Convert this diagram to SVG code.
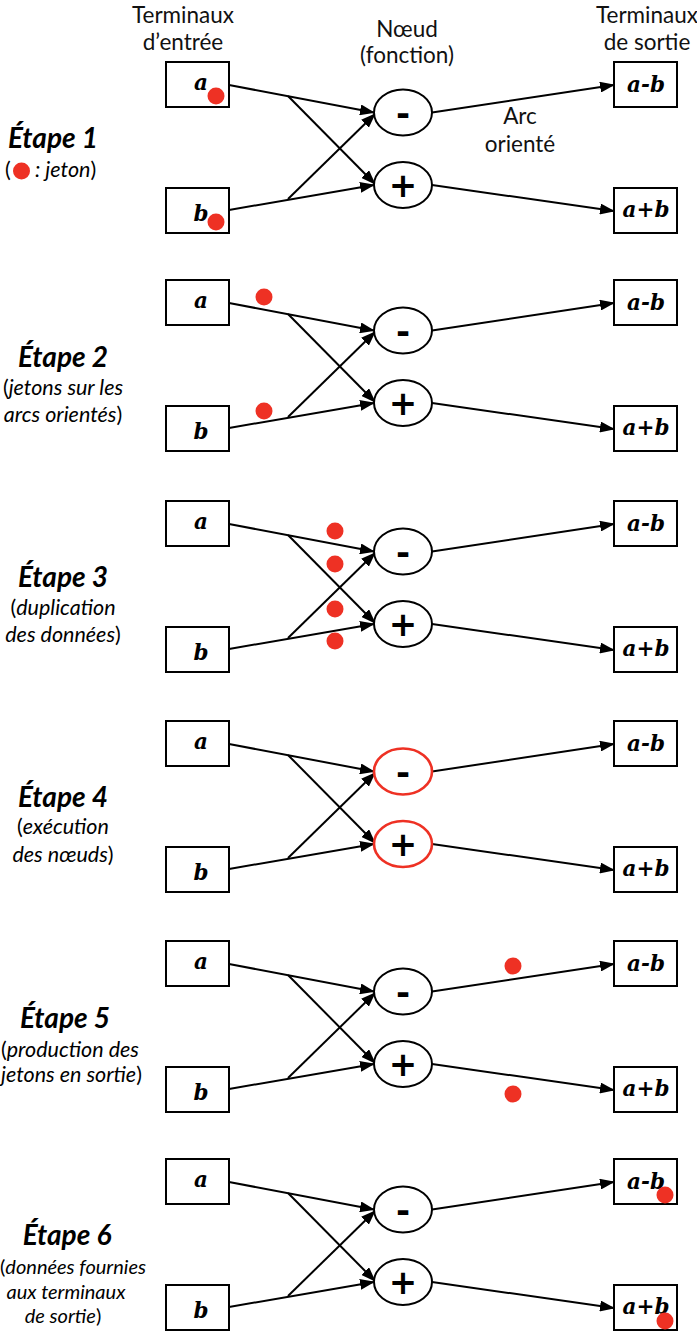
<svg xmlns="http://www.w3.org/2000/svg" width="697" height="1333" viewBox="0 0 697 1333">
  <defs>
    <marker id="ah" markerUnits="userSpaceOnUse" markerWidth="15" markerHeight="11" refX="14" refY="5.5" orient="auto">
      <path d="M0,0 L15,5.5 L0,11 z" fill="#000"/>
    </marker>
    <style>
      .box{fill:#fff;stroke:#000;stroke-width:2}
      .node{fill:#fff;stroke:#000;stroke-width:2}
      .hot{stroke:#ee3124;stroke-width:2.6}
      .arc{stroke:#000;stroke-width:2;fill:none}
      .arr{marker-end:url(#ah)}
      .tok{fill:#ee3124}
      .var{font-family:"DejaVu Serif","Liberation Serif",serif;font-weight:bold;font-style:italic;font-size:21.5px;text-anchor:middle}
      .op{font-family:"DejaVu Sans",sans-serif;font-weight:bold;font-size:34px;text-anchor:middle}
      .hdr{font-family:Lato,"Liberation Sans",sans-serif;font-size:22.5px;text-anchor:middle;fill:#111}
      .step{font-family:Lato,"Liberation Sans",sans-serif;font-weight:bold;font-style:italic;font-size:28px;text-anchor:middle}
      .sub{font-family:Lato,"Liberation Sans",sans-serif;font-size:21.5px;text-anchor:middle}
      .sm{font-size:20px}
      .lft{text-anchor:start}
      .it{font-style:italic}
    </style>
  </defs>
  <rect width="697" height="1333" fill="#fff"/>

  <!-- column headings -->
  <g id="headings">
    <text class="hdr" x="183" y="23">Terminaux</text>
    <text class="hdr" x="183" y="50">d’entrée</text>
    <text class="hdr" x="407" y="37">Nœud</text>
    <text class="hdr" x="407" y="63">(fonction)</text>
    <text class="hdr" x="647" y="23">Terminaux</text>
    <text class="hdr" x="647" y="50">de sortie</text>
    <text class="hdr" x="520" y="124">Arc</text>
    <text class="hdr" x="520" y="152">orienté</text>
  </g>

  <!-- ===== Step 1 ===== -->
  <g id="step1">
    <g id="s1-label">
      <text class="step" x="53" y="148">Étape 1</text>
      <text class="sub lft" x="5" y="177">(</text>
      <circle class="tok" cx="21.5" cy="171" r="8.5"/>
      <text class="sub lft" x="35" y="177"><tspan class="it">: jeton</tspan>)</text>
    </g>
    <g id="s1-arcs">
      <line class="arc arr" x1="229" y1="85" x2="374" y2="112.5"/>
      <line class="arc arr" x1="288" y1="96" x2="375" y2="184"/>
      <line class="arc arr" x1="229" y1="210" x2="374" y2="185"/>
      <line class="arc arr" x1="288" y1="199" x2="375" y2="114"/>
      <line class="arc arr" x1="432" y1="112.5" x2="614" y2="85"/>
      <line class="arc arr" x1="432" y1="185" x2="614" y2="211"/>
    </g>
    <g id="s1-in-a"><rect class="box" x="166" y="62" width="63" height="45"/><text class="var" x="201" y="90">a</text></g>
    <g id="s1-in-b"><rect class="box" x="166" y="188" width="63" height="45"/><text class="var" x="201" y="221">b</text></g>
    <g id="s1-sub"><ellipse class="node" cx="403" cy="112.5" rx="29" ry="23"/><text class="op" x="403" y="124.5">-</text></g>
    <g id="s1-add"><ellipse class="node" cx="403" cy="185" rx="29" ry="23"/><text class="op" x="403" y="197">+</text></g>
    <g id="s1-out-diff"><rect class="box" x="614" y="62" width="63" height="45"/><text class="var" x="646" y="92">a-b</text></g>
    <g id="s1-out-sum"><rect class="box" x="614" y="188" width="63" height="45"/><text class="var" x="646" y="217">a+b</text></g>
    <g id="s1-tokens">
      <circle class="tok" cx="216" cy="96" r="8.5"/>
      <circle class="tok" cx="216" cy="222" r="8.5"/>
    </g>
  </g>

  <!-- ===== Step 2 ===== -->
  <g id="step2" transform="translate(0,218)">
    <g id="s2-label">
      <text class="step" x="63" y="149">Étape 2</text>
      <text class="sub" x="63" y="177">(<tspan class="it">jetons sur les</tspan></text>
      <text class="sub" x="63" y="204"><tspan class="it">arcs orientés</tspan>)</text>
    </g>
    <g id="s2-arcs">
      <line class="arc arr" x1="229" y1="85" x2="374" y2="112.5"/>
      <line class="arc arr" x1="288" y1="96" x2="375" y2="184"/>
      <line class="arc arr" x1="229" y1="210" x2="374" y2="185"/>
      <line class="arc arr" x1="288" y1="199" x2="375" y2="114"/>
      <line class="arc arr" x1="432" y1="112.5" x2="614" y2="85"/>
      <line class="arc arr" x1="432" y1="185" x2="614" y2="211"/>
    </g>
    <g id="s2-in-a"><rect class="box" x="166" y="62" width="63" height="45"/><text class="var" x="201" y="90">a</text></g>
    <g id="s2-in-b"><rect class="box" x="166" y="188" width="63" height="45"/><text class="var" x="201" y="221">b</text></g>
    <g id="s2-sub"><ellipse class="node" cx="403" cy="112.5" rx="29" ry="23"/><text class="op" x="403" y="124.5">-</text></g>
    <g id="s2-add"><ellipse class="node" cx="403" cy="185" rx="29" ry="23"/><text class="op" x="403" y="197">+</text></g>
    <g id="s2-out-diff"><rect class="box" x="614" y="62" width="63" height="45"/><text class="var" x="646" y="92">a-b</text></g>
    <g id="s2-out-sum"><rect class="box" x="614" y="188" width="63" height="45"/><text class="var" x="646" y="217">a+b</text></g>
    <g id="s2-tokens">
      <circle class="tok" cx="264" cy="79" r="8.5"/>
      <circle class="tok" cx="264" cy="193" r="8.5"/>
    </g>
  </g>

  <!-- ===== Step 3 ===== -->
  <g id="step3" transform="translate(0,439)">
    <g id="s3-label">
      <text class="step" x="63" y="148">Étape 3</text>
      <text class="sub" x="63" y="176">(<tspan class="it">duplication</tspan></text>
      <text class="sub" x="63" y="203"><tspan class="it">des données</tspan>)</text>
    </g>
    <g id="s3-arcs">
      <line class="arc arr" x1="229" y1="85" x2="374" y2="112.5"/>
      <line class="arc arr" x1="288" y1="96" x2="375" y2="184"/>
      <line class="arc arr" x1="229" y1="210" x2="374" y2="185"/>
      <line class="arc arr" x1="288" y1="199" x2="375" y2="114"/>
      <line class="arc arr" x1="432" y1="112.5" x2="614" y2="85"/>
      <line class="arc arr" x1="432" y1="185" x2="614" y2="211"/>
    </g>
    <g id="s3-in-a"><rect class="box" x="166" y="62" width="63" height="45"/><text class="var" x="201" y="90">a</text></g>
    <g id="s3-in-b"><rect class="box" x="166" y="188" width="63" height="45"/><text class="var" x="201" y="221">b</text></g>
    <g id="s3-sub"><ellipse class="node" cx="403" cy="112.5" rx="29" ry="23"/><text class="op" x="403" y="124.5">-</text></g>
    <g id="s3-add"><ellipse class="node" cx="403" cy="185" rx="29" ry="23"/><text class="op" x="403" y="197">+</text></g>
    <g id="s3-out-diff"><rect class="box" x="614" y="62" width="63" height="45"/><text class="var" x="646" y="92">a-b</text></g>
    <g id="s3-out-sum"><rect class="box" x="614" y="188" width="63" height="45"/><text class="var" x="646" y="217">a+b</text></g>
    <g id="s3-tokens">
      <circle class="tok" cx="335" cy="92" r="8.5"/>
      <circle class="tok" cx="335" cy="125" r="8.5"/>
      <circle class="tok" cx="335" cy="170" r="8.5"/>
      <circle class="tok" cx="335" cy="202" r="8.5"/>
    </g>
  </g>

  <!-- ===== Step 4 ===== -->
  <g id="step4" transform="translate(0,659)">
    <g id="s4-label">
      <text class="step" x="63" y="148">Étape 4</text>
      <text class="sub" x="63" y="175">(<tspan class="it">exécution</tspan></text>
      <text class="sub" x="63" y="203"><tspan class="it">des nœuds</tspan>)</text>
    </g>
    <g id="s4-arcs">
      <line class="arc arr" x1="229" y1="85" x2="374" y2="112.5"/>
      <line class="arc arr" x1="288" y1="96" x2="375" y2="184"/>
      <line class="arc arr" x1="229" y1="210" x2="374" y2="185"/>
      <line class="arc arr" x1="288" y1="199" x2="375" y2="114"/>
      <line class="arc arr" x1="432" y1="112.5" x2="614" y2="85"/>
      <line class="arc arr" x1="432" y1="185" x2="614" y2="211"/>
    </g>
    <g id="s4-in-a"><rect class="box" x="166" y="62" width="63" height="45"/><text class="var" x="201" y="90">a</text></g>
    <g id="s4-in-b"><rect class="box" x="166" y="188" width="63" height="45"/><text class="var" x="201" y="221">b</text></g>
    <g id="s4-sub"><ellipse class="node hot" cx="403" cy="112.5" rx="29" ry="23"/><text class="op" x="403" y="124.5">-</text></g>
    <g id="s4-add"><ellipse class="node hot" cx="403" cy="185" rx="29" ry="23"/><text class="op" x="403" y="197">+</text></g>
    <g id="s4-out-diff"><rect class="box" x="614" y="62" width="63" height="45"/><text class="var" x="646" y="92">a-b</text></g>
    <g id="s4-out-sum"><rect class="box" x="614" y="188" width="63" height="45"/><text class="var" x="646" y="217">a+b</text></g>
  </g>

  <!-- ===== Step 5 ===== -->
  <g id="step5" transform="translate(0,879)">
    <g id="s5-label">
      <text class="step" x="65" y="149">Étape 5</text>
      <text class="sub lft" x="1" y="178">(<tspan class="it">production des</tspan></text>
      <text class="sub lft" x="1" y="203"><tspan class="it">jetons en sortie</tspan>)</text>
    </g>
    <g id="s5-arcs">
      <line class="arc arr" x1="229" y1="85" x2="374" y2="112.5"/>
      <line class="arc arr" x1="288" y1="96" x2="375" y2="184"/>
      <line class="arc arr" x1="229" y1="210" x2="374" y2="185"/>
      <line class="arc arr" x1="288" y1="199" x2="375" y2="114"/>
      <line class="arc arr" x1="432" y1="112.5" x2="614" y2="85"/>
      <line class="arc arr" x1="432" y1="185" x2="614" y2="211"/>
    </g>
    <g id="s5-in-a"><rect class="box" x="166" y="62" width="63" height="45"/><text class="var" x="201" y="90">a</text></g>
    <g id="s5-in-b"><rect class="box" x="166" y="188" width="63" height="45"/><text class="var" x="201" y="221">b</text></g>
    <g id="s5-sub"><ellipse class="node" cx="403" cy="112.5" rx="29" ry="23"/><text class="op" x="403" y="124.5">-</text></g>
    <g id="s5-add"><ellipse class="node" cx="403" cy="185" rx="29" ry="23"/><text class="op" x="403" y="197">+</text></g>
    <g id="s5-out-diff"><rect class="box" x="614" y="62" width="63" height="45"/><text class="var" x="646" y="92">a-b</text></g>
    <g id="s5-out-sum"><rect class="box" x="614" y="188" width="63" height="45"/><text class="var" x="646" y="217">a+b</text></g>
    <g id="s5-tokens">
      <circle class="tok" cx="513" cy="87" r="8.5"/>
      <circle class="tok" cx="513" cy="215" r="8.5"/>
    </g>
  </g>

  <!-- ===== Step 6 ===== -->
  <g id="step6" transform="translate(0,1097)">
    <g id="s6-label">
      <text class="step" x="67" y="148">Étape 6</text>
      <text class="sub sm lft" x="0" y="177">(<tspan class="it">données fournies</tspan></text>
      <text class="sub sm" x="66" y="201.5"><tspan class="it">aux terminaux</tspan></text>
      <text class="sub sm" x="63" y="226"><tspan class="it">de sortie</tspan>)</text>
    </g>
    <g id="s6-arcs">
      <line class="arc arr" x1="229" y1="85" x2="374" y2="112.5"/>
      <line class="arc arr" x1="288" y1="96" x2="375" y2="184"/>
      <line class="arc arr" x1="229" y1="210" x2="374" y2="185"/>
      <line class="arc arr" x1="288" y1="199" x2="375" y2="114"/>
      <line class="arc arr" x1="432" y1="112.5" x2="614" y2="85"/>
      <line class="arc arr" x1="432" y1="185" x2="614" y2="211"/>
    </g>
    <g id="s6-in-a"><rect class="box" x="166" y="62" width="63" height="45"/><text class="var" x="201" y="90">a</text></g>
    <g id="s6-in-b"><rect class="box" x="166" y="188" width="63" height="45"/><text class="var" x="201" y="221">b</text></g>
    <g id="s6-sub"><ellipse class="node" cx="403" cy="112.5" rx="29" ry="23"/><text class="op" x="403" y="124.5">-</text></g>
    <g id="s6-add"><ellipse class="node" cx="403" cy="185" rx="29" ry="23"/><text class="op" x="403" y="197">+</text></g>
    <g id="s6-out-diff"><rect class="box" x="614" y="62" width="63" height="45"/><text class="var" x="646" y="92">a-b</text></g>
    <g id="s6-out-sum"><rect class="box" x="614" y="188" width="63" height="45"/><text class="var" x="646" y="217">a+b</text></g>
    <g id="s6-tokens">
      <circle class="tok" cx="665" cy="98" r="8.5"/>
      <circle class="tok" cx="665" cy="224" r="8.5"/>
    </g>
  </g>
</svg>
